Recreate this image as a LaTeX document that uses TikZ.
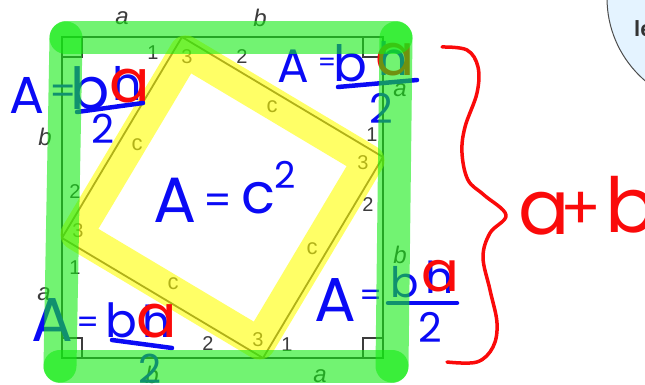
\documentclass[tikz,border=0pt]{standalone}
\usepackage{fontspec}
\setsansfont{Liberation Sans}
\newfontfamily\handfont{Poppins}
\usetikzlibrary{calc}

\definecolor{inkblue}{RGB}{10,10,245}
\definecolor{inkred}{RGB}{250,10,10}
\definecolor{hlgreen}{RGB}{20,235,20}
\definecolor{hlyellow}{RGB}{255,255,0}
\definecolor{linegrey}{RGB}{60,60,60}
\definecolor{bubblefill}{RGB}{228,243,255}

\tikzset{
  edge/.style={draw=linegrey, line width=1.8pt},
  sidelbl/.style={text=linegrey, font=\sffamily\itshape\fontsize{24}{24}\selectfont, inner sep=0pt},
  clbl/.style={text=linegrey, font=\sffamily\fontsize{22}{22}\selectfont, inner sep=0pt},
  anglbl/.style={text=linegrey, font=\sffamily\fontsize{20}{20}\selectfont, inner sep=0pt},
  ink/.style={text=inkblue, font=\handfont\fontsize{#1}{#1}\selectfont, inner sep=0pt},
  redink/.style={text=inkred, font=\handfont\fontsize{#1}{#1}\selectfont, inner sep=0pt},
  bar/.style={draw=inkblue, line width=4.5pt, line cap=round},
  brace/.style={draw=inkred, line width=3.5pt, line cap=round, line join=round},
  greenhl/.style={draw=hlgreen, draw opacity=0.6, line width=33pt, line cap=round},
  yellowhl/.style={draw=hlyellow, draw opacity=0.6, line width=32pt, line join=round},
}

\begin{document}
\begin{tikzpicture}[x=1pt, y=-1pt]
    \useasboundingbox (0,0) rectangle (645,385);
    \clip (0,0) rectangle (645,385);

    % bubble cut off at the corner
    \filldraw[fill=bubblefill, draw=black!70, line width=1pt] (716,-2) circle[radius=109];
    \node[anchor=west, text=black!80, font=\sffamily\bfseries\fontsize{22}{22}\selectfont, inner sep=0pt] (bubtxt) at (634,29) {le};

    % outer square and the tilted one
    \coordinate (tl) at (62,37);
    \coordinate (tr) at (383,37);
    \coordinate (br) at (383,358);
    \coordinate (bl) at (62,358);
    \coordinate (top) at (182,37);
    \coordinate (rgt) at (383,157);
    \coordinate (bot) at (263,358);
    \coordinate (lft) at (62,238);
    \coordinate (o) at (222.5,197.5);

    \draw[edge] (tl) -- (tr) -- (br) -- (bl) -- cycle;
    \draw[edge] (top) -- (rgt) -- (bot) -- (lft) -- cycle;

    % right angles
    \draw[edge] (tl) ++(20,0) |- ++(-20,20);
    \draw[edge] (tr) ++(-20,0) |- ++(20,20);
    \draw[edge] (br) ++(-20,0) |- ++(20,-20);
    \draw[edge] (bl) ++(20,0) |- ++(-20,-20);

    % side lengths
    \node[sidelbl] (ta) at (122,18) {a};
    \node[sidelbl] (tb) at (260,18) {b};
    \node[sidelbl] (la) at (44,294) {a};
    \node[sidelbl] (lb) at (45,137) {b};
    \node[sidelbl] (bb) at (152,375) {b};
    \node[sidelbl] (ba) at (320,376) {a};
    \node[sidelbl] (ra) at (400,90) {a};
    \node[sidelbl] (rb) at (400,255) {b};

    \node[clbl] (c1) at (137,145) {c};
    \node[clbl] (c2) at (272,107) {c};
    \node[clbl] (c3) at (312,249) {c};
    \node[clbl] (c4) at (173,284) {c};

    % angles at the corners of the tilted square
    \node[anglbl] (t1) at (153,53) {1};
    \node[anglbl] (t3) at (187,57) {3};
    \node[anglbl] (t2) at (242,57) {2};
    \node[anglbl] (r1) at (372,135) {1};
    \node[anglbl] (r3) at (363,163) {3};
    \node[anglbl] (r2) at (368,205) {2};
    \node[anglbl] (b2) at (208,344) {2};
    \node[anglbl] (b3) at (258,340) {3};
    \node[anglbl] (b1) at (287,345) {1};
    \node[anglbl] (l2) at (75,192) {2};
    \node[anglbl] (l3) at (78,231) {3};
    \node[anglbl] (l1) at (75,268) {1};

    % yellow marker
    \draw[yellowhl] ($(top)!0.09!(o)$) -- ($(rgt)!0.09!(o)$) -- ($(bot)!0.09!(o)$) -- ($(lft)!0.09!(o)$) -- cycle;

    % handwriting, top left
    \node[ink=52] (A1) at (27,95) {A};
    \node[ink=38] (e1) at (63,95) {=};
    \node[ink=58] (b1) at (90,88) {b};
    \node[ink=46] (h1) at (127,83) {h};
    \node[redink=60] (a1) at (130,86) {a};
    \draw[bar] (77,112) -- (143,103);
    \node[ink=40] (n1) at (103,129) {2};

    % top right
    \node[ink=47] (A2) at (293,66) {A};
    \node[ink=26] (e2) at (327,65) {=};
    \node[ink=50] (b2h) at (350,63) {b};
    \node[ink=46] (h2) at (393,58) {h};
    \node[redink=58] (a2) at (395,60) {a};
    \draw[bar] (338,87) -- (417,80);
    \node[ink=41] (n2) at (381,108) {2};

    % middle
    \node[ink=64] (A0) at (175,200) {A};
    \node[ink=40] (e0) at (218,204) {=};
    \node[ink=56] (c0) at (258,198) {c};
    \node[ink=37] (n0) at (285,175) {2};

    % bottom right
    \node[ink=62] (A3) at (335,300) {A};
    \node[ink=32] (e3) at (371,298) {=};
    \node[ink=42] (b3h) at (405,282) {b};
    \node[ink=44] (h3) at (440,277) {h};
    \node[redink=56] (a3) at (440,276) {a};
    \draw[bar] (388,303) -- (457,303);
    \node[ink=41] (n3) at (430,327) {2};

    % bottom left
    \node[ink=62] (A4) at (52,320) {A};
    \node[ink=32] (e4) at (88,325) {=};
    \node[ink=47] (b4h) at (121,320) {b};
    \node[ink=44] (h4) at (157,321) {h};
    \node[redink=60] (a4) at (157,321) {a};
    \draw[bar] (112,340) -- (172,348);
    \node[ink=40] (n4) at (150,369) {2};

    % green marker round the outer square
    \coordinate (g1) at (66,38);
    \coordinate (g2) at (396,38);
    \coordinate (g3) at (392,366);
    \coordinate (g4) at (60,366);
    \draw[greenhl] (g1) -- (g2);
    \draw[greenhl] (g2) -- (g3);
    \draw[greenhl] (g3) -- (g4);
    \draw[greenhl] (g4) -- (g1);

    % brace and a+b
    \draw[brace] plot[smooth, tension=0.6] coordinates {(442,47) (467,50) (478,67) (477,93) (465,127) (462,153) (468,180) (484,195) (506,215) (490,233) (483,257) (490,290) (497,323) (493,347) (477,362) (447,362)};
    \node[redink=76] (sa) at (544,214) {a};
    \node[redink=60] (plus) at (581,211) {+};
    \node[redink=76] (sb) at (631,205) {b};
\end{tikzpicture}
\end{document}
